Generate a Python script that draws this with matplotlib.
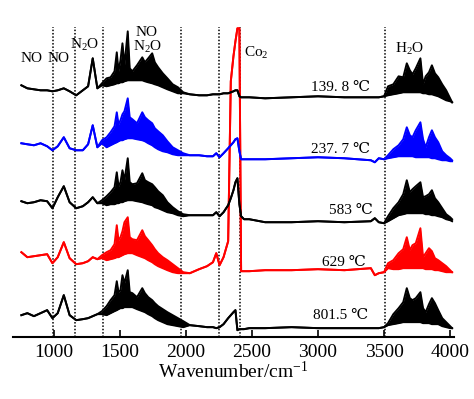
import numpy as np
import matplotlib
matplotlib.use("Agg")
import matplotlib.pyplot as plt

#%% data
# common wavenumber grid (cm-1)
W = [755, 800, 850, 900, 950, 990, 1030, 1076, 1120, 1170,
     1220, 1260, 1295, 1330, 1365, 1400, 1430, 1460, 1477, 1490,
     1505, 1520, 1535, 1560, 1575, 1595, 1630, 1670, 1690, 1715,
     1745, 1765, 1790, 1825, 1860, 1900, 1940, 1980, 2030, 2100,
     2160, 2205, 2230, 2255, 2285, 2320, 2340, 2360, 2375, 2390,
     2405, 2418, 2440, 2480, 2600, 2800, 3000, 3200, 3400, 3430,
     3460, 3500, 3530, 3570, 3610, 3645, 3672, 3695, 3715, 3740,
     3775, 3795, 3815, 3840, 3862, 3885, 3910, 3940, 3970, 4000, 4015]

temps = ['139. 8 \u2103', '237. 7 \u2103', '583 \u2103', '629 \u2103', '801.5 \u2103']

# upper edge of each spectrum (relative intensity)
t1_hi = [13, 10, 9, 8, 8, 7, 8, 10, 7, 3,
         8, 12, 40, 10, 15, 20, 21, 27, 46, 27,
         38, 55, 33, 67, 30, 27, 33, 41, 36, 40,
         45, 36, 31, 25, 20, 14, 11, 6, 4, 3,
         3, 4, 4, 4, 5, 5, 6, 7, 8, 8,
         2, 1, 1, 1, 0, 1, 2, 1, 1, 1,
         1, 2, 12, 14, 22, 21, 35, 28, 24, 30,
         40, 14, 22, 26, 33, 25, 21, 14, 8, 0, -4]
t2_hi = [16, 15, 14, 16, 13, 9, 13, 22, 11, 9,
         9, 15, 34, 12, 19, 22, 27, 33, 47, 35,
         39, 45, 48, 61, 42, 40, 36, 47, 42, 39,
         36, 31, 28, 24, 18, 12, 9, 6, 4, 4,
         3, 3, 6, 2, 6, 11, 14, 17, 20, 21,
         8, 0, 0, 0, 0, 1, 2, 1, -1, -3,
         1, 0, 4, 10, 14, 20, 32, 24, 22, 29,
         37, 20, 12, 22, 29, 22, 17, 8, 4, 1, -1]
t3_hi = [21, 19, 20, 22, 21, 14, 25, 36, 20, 14,
         16, 20, 25, 19, 22, 26, 30, 35, 50, 36,
         40, 52, 42, 64, 40, 38, 39, 49, 42, 40,
         38, 35, 31, 27, 20, 15, 11, 8, 7, 7,
         7, 7, 10, 6, 10, 17, 24, 32, 40, 44,
         18, 6, 3, 3, 0, 0, 1, 0, 1, 4,
         0, -1, 6, 14, 20, 28, 42, 30, 33, 36,
         40, 25, 26, 28, 32, 24, 20, 14, 8, 5, 3]
t4_hi = [19, 14, 15, 16, 17, 8, 14, 29, 13, 7,
         8, 10, 14, 12, 16, 19, 21, 27, 46, 31,
         34, 40, 49, 54, 34, 32, 31, 41, 35, 31,
         26, 22, 18, 14, 11, 7, 3, -1, -2, 2,
         5, 9, 18, 6, 14, 30, 190, 215, 230, 243,
         243, 0, 0, 0, 1, 1, 2, 1, 3, -4,
         -2, -1, 8, 11, 18, 22, 34, 21, 26, 28,
         43, 14, 18, 23, 20, 13, 11, 8, 5, 1, -1]
t5_hi = [13, 15, 12, 15, 18, 10, 15, 33, 13, 8,
         9, 10, 12, 14, 17, 22, 28, 33, 47, 36,
         38, 53, 45, 58, 36, 35, 31, 40, 35, 31,
         28, 25, 22, 19, 16, 13, 10, 7, 3, 2,
         1, 1, 0, 1, 4, 10, 13, 16, 18, -2,
         -1, -1, -1, 0, 0, 1, 0, 0, 0, 0,
         0, 1, 5, 14, 20, 26, 40, 30, 28, 30,
         36, 20, 16, 24, 30, 25, 18, 10, 6, 2, 0]

# lower edge of the noisy bands (NO/N2O band 1365-1980, H2O band 3530-4015)
t1_lo_no = [13, 12, 13, 14, 15, 15, 16, 16, 17, 18, 18, 18, 18, 18, 17, 16, 15, 14, 13, 11, 9, 7, 5, 5]
t2_lo_no = [16, 12, 14, 16, 17, 18, 19, 19, 20, 21, 21, 21, 20, 19, 18, 16, 14, 12, 10, 8, 7, 5, 4, 4]
t3_lo_no = [19, 17, 18, 18, 19, 19, 20, 20, 21, 22, 22, 22, 21, 20, 19, 18, 17, 15, 14, 12, 10, 9, 7, 6]
t4_lo_no = [13, 11, 12, 13, 14, 14, 15, 16, 17, 18, 18, 18, 16, 14, 13, 11, 9, 7, 5, 3, 1, -1, -2, -2]
t5_lo_no = [14, 13, 15, 17, 18, 19, 20, 20, 21, 21, 21, 21, 19, 17, 16, 14, 12, 10, 8, 6, 4, 3, 2, 1]

t1_lo_h2o = [3, 4, 5, 6, 6, 6, 6, 6, 6, 5, 5, 4, 4, 3, 2, 0, -2, -3, -4]
t2_lo_h2o = [1, 2, 3, 3, 3, 3, 3, 2, 2, 2, 2, 2, 1, 1, 0, -1, -1, -2, -2]
t3_lo_h2o = [1, 4, 7, 8, 9, 9, 9, 9, 9, 9, 8, 8, 7, 7, 6, 5, 3, 2, 1]
t4_lo_h2o = [3, 2, 2, 3, 3, 3, 3, 3, 3, 3, 2, 2, 2, 1, 1, 0, -1, -1, -1]
t5_lo_h2o = [3, 4, 5, 6, 6, 6, 6, 6, 6, 5, 5, 5, 4, 4, 4, 2, 1, 0, 0]

#%% stacking and styling
offsets = [239, 178, 115, 66, 9]
colors = ['black', '#0000ff', 'black', '#ff0000', 'black']
guides = [995, 1160, 1370, 1960, 2250, 2410, 3505]

plt.rcParams['font.family'] = ['Liberation Serif', 'DejaVu Serif', 'DejaVu Sans']
plt.rcParams['mathtext.fontset'] = 'custom'
plt.rcParams['mathtext.rm'] = 'Liberation Serif'
plt.rcParams['mathtext.it'] = 'Liberation Serif:italic'

fig = plt.figure(figsize=(4.74, 3.99), dpi=100)
ax = fig.add_axes([0.027, 0.155, 0.931, 0.794])

W = np.array(W)
his = [t1_hi, t2_hi, t3_hi, t4_hi, t5_hi]
los_no = [t1_lo_no, t2_lo_no, t3_lo_no, t4_lo_no, t5_lo_no]
los_h2o = [t1_lo_h2o, t2_lo_h2o, t3_lo_h2o, t4_lo_h2o, t5_lo_h2o]

# red first so the other traces sit over the CO2 spike
for i in [3, 0, 1, 2, 4]:
    hi = np.array(his[i], dtype=float)
    lo = hi.copy()
    lo[14:38] = los_no[i]
    lo[62:81] = los_h2o[i]
    z = 2 if i == 3 else 3
    ax.fill_between(W, offsets[i] + lo, offsets[i] + hi, color=colors[i], lw=0, zorder=z)
    ax.plot(W, offsets[i] + hi, color=colors[i], lw=1.4, zorder=z)
    ax.plot(W, offsets[i] + lo, color=colors[i], lw=1.4, zorder=z)

for g in guides:
    ax.plot([g, g], [0, 310], color='black', ls=(0, (1, 1.2)), lw=1.1, zorder=1)

# band labels
lab = dict(ha='center', va='center', fontsize=11)
ax.text(833, 279, 'NO', **lab)
ax.text(1038, 279, 'NO', **lab)
ax.text(1235, 292, 'N$_\\mathrm{2}$O', **lab)
ax.text(1705, 305, 'NO', **lab)
ax.text(1710, 290, 'N$_\\mathrm{2}$O', **lab)
ax.text(2530, 284, 'Co$_\\mathrm{2}$', **lab)
ax.text(3697, 288, 'H$_\\mathrm{2}$O', **lab)

temp_x = [3167, 3174, 3250, 3197, 3174]
temp_y = [250, 188, 127, 75, 22]
for t, tx, ty in zip(temps, temp_x, temp_y):
    ax.text(tx, ty, t, **lab)

ax.set_xlim(690, 4030)
ax.set_ylim(0, 317)
ax.set_xticks([1000, 1500, 2000, 2500, 3000, 3500, 4000])
ax.set_yticks([])
ax.tick_params(axis='x', direction='in', length=5, width=1.2, labelsize=14, pad=5)
for s in ['left', 'right', 'top']:
    ax.spines[s].set_visible(False)
ax.spines['bottom'].set_linewidth(1.5)
ax.set_xlabel('Wavenumber/cm$^{\\mathrm{-1}}$', fontsize=14, labelpad=0)

plt.savefig('out.png', dpi=100)
